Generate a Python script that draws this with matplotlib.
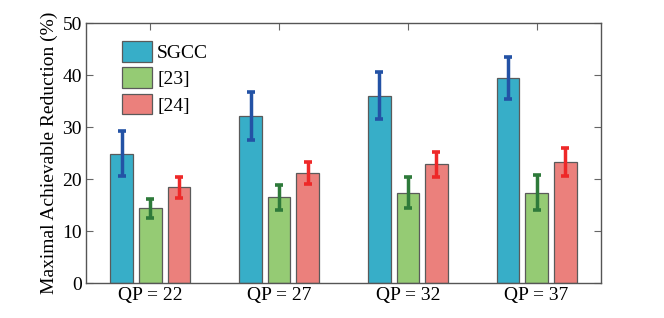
import numpy as np
import matplotlib.pyplot as plt

plt.rcParams['font.family'] = ['Liberation Serif', 'DejaVu Serif']

groups = ['QP = 22', 'QP = 27', 'QP = 32', 'QP = 37']
series = ['SGCC', '[23]', '[24]']
sgcc = [24.9, 32.1, 36.0, 39.4]
ref23 = [14.4, 16.5, 17.4, 17.4]
ref24 = [18.4, 21.1, 22.8, 23.3]
sgcc_err = [4.4, 4.6, 4.5, 4.0]
ref23_err = [1.85, 2.4, 3.0, 3.4]
ref24_err = [2.0, 2.1, 2.4, 2.7]

bar_colors = ['#37AEC8', '#95CB74', '#EB807C']
err_colors = ['#2352A5', '#2E7A3A', '#EE2828']

fig = plt.figure(figsize=(6.64, 3.18), dpi=100)
ax = fig.add_axes([86/664, 1 - 283/318, (601-86)/664, (283-23)/318])

x = np.arange(1, len(groups) + 1)
width = 0.176
offsets = [-0.222, 0, 0.222]
for vals, errs, off, bc, ec, name in zip([sgcc, ref23, ref24],
                                          [sgcc_err, ref23_err, ref24_err],
                                          offsets, bar_colors, err_colors, series):
    ax.bar(x + off, vals, width, color=bc, edgecolor='#5a5a5a', linewidth=0.9, label=name, zorder=2)
    ax.errorbar(x + off, vals, yerr=errs, fmt='none', ecolor=ec, elinewidth=2.5,
                capsize=2.8, capthick=2.6, zorder=3)

ax.set_xlim(0.5, 4.5)
ax.set_ylim(0, 50)
ax.set_xticks(x)
ax.set_xticklabels(groups)
ax.set_yticks(range(0, 51, 10))
ax.tick_params(direction='in', top=True, right=True, length=5, labelsize=14,
               color='#666666', pad=3)
for s in ax.spines.values():
    s.set_color('#555555')
    s.set_linewidth(1.0)
ax.set_ylabel('Maximal Achievable Reduction (%)', fontsize=14, labelpad=3)

ax.legend(loc='upper left', bbox_to_anchor=(0.07, 0.93), frameon=False, fontsize=14,
          handlelength=1.55, handleheight=1.25, handletextpad=0.25, labelspacing=0.28,
          borderaxespad=0, borderpad=0)

fig.savefig('out.png', dpi=100)
